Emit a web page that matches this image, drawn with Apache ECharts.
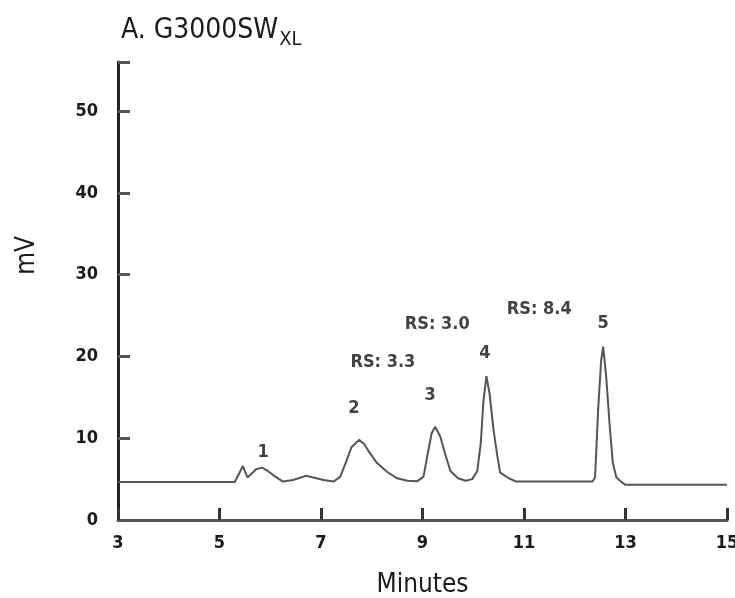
<!DOCTYPE html>
<html><head><meta charset="utf-8">
<script src="https://cdn.jsdelivr.net/npm/echarts@6/dist/echarts.min.js"></script>
<style>html,body{margin:0;padding:0;background:#fff}#c{width:735px;height:598px}</style>
</head><body><div id="c"></div>
<script>
// Chromatogram trace: [minutes, mV]
const trace = [
[3.0,4.65],[5.3,4.65],[5.38,5.6],[5.46,6.6],[5.55,5.2],[5.62,5.6],[5.72,6.2],[5.84,6.4],[5.95,6.0],[6.1,5.3],[6.25,4.7],[6.45,4.9],[6.7,5.4],[6.85,5.2],[7.05,4.9],[7.25,4.7],[7.38,5.3],[7.5,7.2],[7.6,8.9],[7.75,9.8],[7.85,9.3],[7.95,8.3],[8.1,7.0],[8.3,5.9],[8.5,5.1],[8.7,4.8],[8.9,4.75],[9.02,5.3],[9.1,8.0],[9.18,10.6],[9.25,11.4],[9.35,10.2],[9.45,8.0],[9.55,6.0],[9.7,5.1],[9.85,4.8],[9.98,5.0],[10.08,6.0],[10.15,9.5],[10.2,14.5],[10.26,17.6],[10.32,15.5],[10.4,11.0],[10.47,8.0],[10.53,5.8],[10.7,5.1],[10.85,4.7],[11.5,4.7],[12.35,4.7],[12.4,5.2],[12.46,13.4],[12.52,19.5],[12.56,21.2],[12.62,17.5],[12.69,11.4],[12.75,7.0],[12.82,5.2],[12.95,4.5],[13.0,4.3],[15.0,4.3]
];
// Annotations
const annoText = ['1','2','3','4','5','RS: 3.3','RS: 3.0','RS: 8.4'];
const annoX = [5.86,7.65,9.15,10.23,12.56,8.22,9.29,11.3];
const annoY = [8.3,13.7,15.3,20.4,24.1,19.3,23.9,25.7];
const xTicks = [3,5,7,9,11,13,15];
const yTicks = [0,10,20,30,40,50];

const FONT = "'Liberation Sans Narrow','DejaVu Sans Condensed',sans-serif";
const chart = echarts.init(document.getElementById('c'));
chart.setOption({
  animation:false,
  backgroundColor:'#fff',
  title:{
    text:'A. G3000SW{sub|XL}',
    left:116, top:7,
    textStyle:{fontFamily:FONT,fontSize:28,color:'#1a1a1a',fontWeight:'normal',
      rich:{sub:{fontFamily:FONT,fontSize:20,color:'#1a1a1a',padding:[18,0,0,1]}}}
  },
  graphic:[{type:'text',left:14,top:236,rotation:Math.PI/2,
    style:{text:'mV',font:"26px 'DejaVu Sans Condensed',sans-serif",fill:'#1a1a1a'}}],
  grid:{left:118,right:8,top:62,bottom:78,containLabel:false,outerBoundsMode:'none'},
  xAxis:{
    type:'value',min:3,max:15,interval:2,
    name:'Minutes',nameLocation:'middle',nameGap:52,
    nameTextStyle:{fontFamily:FONT,fontSize:26,color:'#1a1a1a'},
    axisLine:{lineStyle:{color:'#555',width:3}},
    axisTick:{inside:true,length:12,lineStyle:{color:'#333',width:3}},
    axisLabel:{fontFamily:FONT,fontSize:18,color:'#1a1a1a',fontWeight:'bold',margin:14,
      formatter:v=>xTicks.includes(v)?String(v):''},
    splitLine:{show:false}
  },
  yAxis:{
    type:'value',min:0,max:56,interval:10,
    axisLine:{show:true,lineStyle:{color:'#222',width:3}},
    axisTick:{show:true,inside:true,length:12,lineStyle:{color:'#555',width:3}},
    axisLabel:{fontFamily:FONT,fontSize:18,color:'#1a1a1a',fontWeight:'bold',margin:20,
      formatter:v=>yTicks.includes(v)?String(v):''},
    splitLine:{show:false}
  },
  series:[
    {type:'line',data:trace,showSymbol:false,smooth:false,
     lineStyle:{color:'#555',width:2}},
    {type:'scatter',symbolSize:0,
     data:annoX.map((x,i)=>[x,annoY[i],annoText[i]]),
     label:{show:true,position:'inside',formatter:p=>p.data[2],
       fontFamily:FONT,fontSize:18,color:'#111',fontWeight:'bold'}}
  ]
});
</script></body></html>
